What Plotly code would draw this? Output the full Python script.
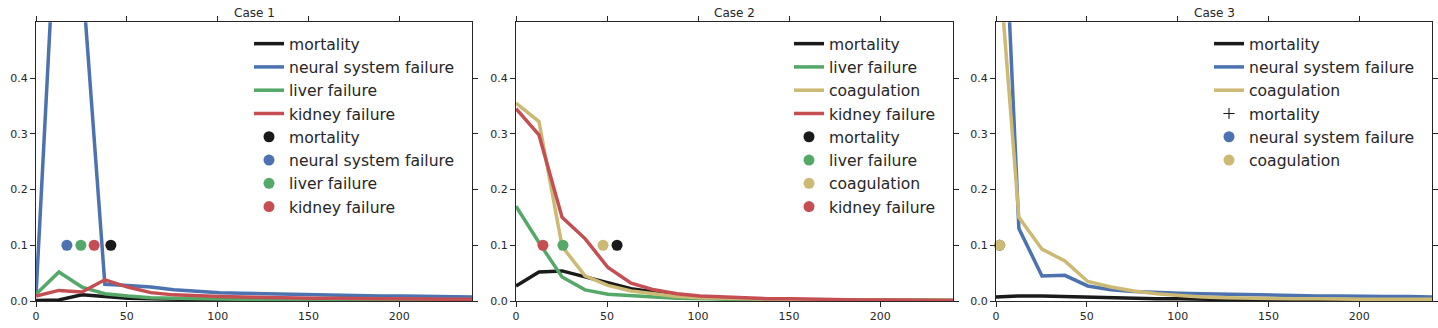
import plotly.graph_objects as go

# ---------------- data ----------------
days = [0, 12.6, 25.3, 37.9, 50.5, 63.2, 75.8, 88.4, 101.1, 113.7,
        126.3, 138.9, 151.6, 164.2, 176.8, 189.5, 202.1, 214.7, 227.4, 240]

# Case 1
c1_mortality = [0.001, 0.002, 0.011, 0.008, 0.005, 0.004, 0.003, 0.003, 0.002, 0.002,
                0.002, 0.002, 0.001, 0.001, 0.001, 0.001, 0.001, 0.001, 0.001, 0.001]
c1_neural = [0.010, 0.80, 0.59, 0.030, 0.028, 0.025, 0.020, 0.017, 0.015, 0.014,
             0.013, 0.012, 0.011, 0.010, 0.010, 0.009, 0.009, 0.008, 0.008, 0.007]
c1_liver = [0.012, 0.052, 0.025, 0.013, 0.009, 0.006, 0.005, 0.004, 0.004, 0.003,
            0.003, 0.003, 0.002, 0.002, 0.002, 0.002, 0.002, 0.002, 0.002, 0.002]
c1_kidney = [0.009, 0.019, 0.016, 0.038, 0.025, 0.015, 0.011, 0.009, 0.008, 0.007,
             0.006, 0.006, 0.005, 0.005, 0.004, 0.004, 0.004, 0.003, 0.003, 0.003]
c1_onset = {"mortality": 41.2, "neural system failure": 17.0,
            "liver failure": 24.7, "kidney failure": 32.0}

# Case 2
c2_mortality = [0.027, 0.052, 0.054, 0.043, 0.033, 0.022, 0.016, 0.010, 0.006, 0.004,
                0.003, 0.002, 0.002, 0.001, 0.001, 0.001, 0.001, 0.001, 0.001, 0.001]
c2_liver = [0.170, 0.105, 0.043, 0.020, 0.012, 0.009, 0.007, 0.005, 0.004, 0.003,
            0.003, 0.002, 0.002, 0.002, 0.001, 0.001, 0.001, 0.001, 0.001, 0.001]
c2_coag = [0.355, 0.322, 0.098, 0.045, 0.028, 0.018, 0.013, 0.008, 0.006, 0.005,
           0.004, 0.003, 0.003, 0.002, 0.002, 0.002, 0.001, 0.001, 0.001, 0.001]
c2_kidney = [0.345, 0.298, 0.150, 0.112, 0.060, 0.032, 0.020, 0.013, 0.009, 0.007,
             0.005, 0.004, 0.004, 0.003, 0.003, 0.002, 0.002, 0.002, 0.001, 0.001]
c2_onset = {"mortality": 55.5, "liver failure": 25.8,
            "coagulation": 47.8, "kidney failure": 14.8}

# Case 3
c3_mortality = [0.007, 0.009, 0.009, 0.008, 0.006, 0.005, 0.005, 0.004, 0.004, 0.003,
                0.003, 0.002, 0.002, 0.002, 0.002, 0.001, 0.001, 0.001, 0.001, 0.001]
c3_neural = [1.04, 0.130, 0.045, 0.046, 0.027, 0.020, 0.017, 0.015, 0.014, 0.013,
             0.012, 0.011, 0.011, 0.010, 0.009, 0.009, 0.008, 0.008, 0.008, 0.007]
c3_coag = [0.675, 0.150, 0.093, 0.072, 0.035, 0.025, 0.018, 0.013, 0.010, 0.007,
           0.006, 0.005, 0.004, 0.004, 0.004, 0.003, 0.003, 0.003, 0.003, 0.003]
c3_onset = {"mortality": 2.0, "neural system failure": 2.0, "coagulation": 2.0}

onset_level = 0.1
titles = ["Case 1", "Case 2", "Case 3"]
x_ticks = [0, 50, 100, 150, 200]
y_ticks = [0.0, 0.1, 0.2, 0.3, 0.4]

# ---------------- style ----------------
COL = {"mortality": "#1a1a1a", "neural system failure": "#4C72B0",
       "liver failure": "#55A868", "kidney failure": "#C44E52",
       "coagulation": "#CCB974"}
TXT = "#262626"
FONT = "DejaVu Sans"
W, H = 1438, 328

cases = [
    (["mortality", "neural system failure", "liver failure", "kidney failure"],
     [c1_mortality, c1_neural, c1_liver, c1_kidney], c1_onset, {}),
    (["mortality", "liver failure", "coagulation", "kidney failure"],
     [c2_mortality, c2_liver, c2_coag, c2_kidney], c2_onset, {}),
    (["mortality", "neural system failure", "coagulation"],
     [c3_mortality, c3_neural, c3_coag], c3_onset, {"mortality": "cross-thin"}),
]

px_domains = [(36, 472), (516, 953), (996, 1432)]
top_px, bot_px = 22.3, 301
ydom = [(H - bot_px) / H, (H - top_px) / H]

fig = go.Figure()
layout = dict(width=W, height=H, margin=dict(l=0, r=0, t=0, b=0),
              paper_bgcolor="white", plot_bgcolor="white",
              font=dict(family=FONT, color=TXT), annotations=[])

for i, (names, series, onset, symbols) in enumerate(cases):
    n = i + 1
    xa = "x" if n == 1 else f"x{n}"
    ya = "y" if n == 1 else f"y{n}"
    lg = "legend" if n == 1 else f"legend{n}"
    for name, vals in zip(names, series):
        fig.add_trace(go.Scatter(x=days, y=vals, mode="lines", name=name,
                                 line=dict(color=COL[name], width=3.5),
                                 xaxis=xa, yaxis=ya, legend=lg))
    for name in names:
        sym = symbols.get(name, "circle")
        if sym == "cross-thin":
            mk = dict(symbol=sym, size=8, color=COL[name],
                      line=dict(color=COL[name], width=1.1))
        else:
            mk = dict(symbol=sym, size=11, color=COL[name], line=dict(width=0))
        fig.add_trace(go.Scatter(x=[onset[name]], y=[onset_level], mode="markers",
                                 name=name, marker=mk, cliponaxis=False,
                                 xaxis=xa, yaxis=ya, legend=lg))
    x0, x1 = px_domains[i]
    axkw = dict(showgrid=False, zeroline=False, showline=True, linecolor=TXT,
                linewidth=1.25, mirror="ticks", ticks="outside", ticklen=5,
                tickwidth=1.25, tickcolor=TXT, automargin=False,
                tickfont=dict(family=FONT, size=11, color=TXT))
    layout["xaxis" if n == 1 else f"xaxis{n}"] = dict(
        domain=[x0 / W, x1 / W], range=[0, 240], tickvals=x_ticks,
        anchor=ya, **axkw)
    layout["yaxis" if n == 1 else f"yaxis{n}"] = dict(
        domain=ydom, range=[0, 0.5], tickvals=y_ticks, tickformat=".1f",
        anchor=xa, **axkw)
    layout[lg] = dict(x=(x1 - 12) / W, xanchor="right", y=(H - 27) / H,
                      yanchor="top", bgcolor="rgba(0,0,0,0)",
                      font=dict(family=FONT, size=15.6, color=TXT),
                      tracegroupgap=0)
    layout["annotations"].append(dict(
        text=titles[i], x=(x0 + x1) / 2 / W, y=(H - 13) / H, xref="paper",
        yref="paper", showarrow=False, xanchor="center", yanchor="middle",
        font=dict(family=FONT, size=12, color=TXT)))

fig.update_layout(**layout)
fig.write_html("out.html", config={"displayModeBar": False},
               post_script="document.body.style.margin='0';document.body.style.padding='0';")
